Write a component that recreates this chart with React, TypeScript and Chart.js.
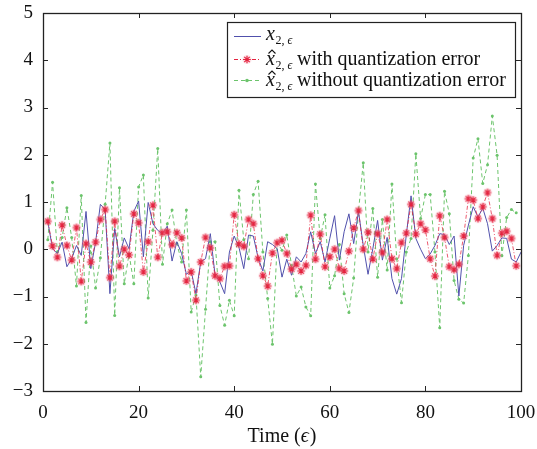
import React, { useEffect, useRef } from 'react';
import { Chart, registerables } from 'chart.js';

Chart.register(...registerables);

const xTrue = [
  0.59, 0.01, -0.09, 0.15, -0.37, -0.2, 0.08, -0.13, 0.8, -0.41,
  0.15, 0.95, 0.84, -0.94, 0.44, -0.16, 0.24, 0.01, 0.8, 1.02,
  -0.16, 0.99, 0.54, 0.4, 0.33, 0.49, -0.25, 0.16, -0.09, -0.53,
  -0.46, -0.94, -0.27, -0.2, 0.33, -0.55, -0.69, -0.94, -0.06, 0.28,
  0.04, -0.41, 0.3, 0.28, -0.18, -0.46, 0.16, 0.1, 0.01, -0.59,
  -0.21, -0.55, -0.16, -0.27, -0.09, 0.37, -0.09, 0.16, -0.27, 0.23,
  0.71, -0.23, 0.37, 0.75, 0.12, 0.8, 0.08, -0.53, 0.01, 0.61,
  -0.23, 0.25, -0.62, -0.95, -0.62, 0.3, 1.13, 0.23, 0.0, -0.2,
  -0.1, 0.08, 0.33, 0.31, 0.1, 0.28, -0.99, 0.08, 0.51, 0.9,
  0.68, 0.87, 0.54, -0.04, 0.08, 0.24, 0.23, -0.21, -0.27, -0.06,
];

const xHatQuant = [
  0.59, 0.07, -0.17, 0.51, 0.08, -0.23, 0.46, -0.68, 0.12, -0.27,
  0.15, 0.63, 0.84, -0.6, 0.59, -0.36, 0.0, -0.12, 0.75, 0.56,
  -0.48, 0.16, 0.93, -0.17, 0.35, 0.37, 0.1, 0.35, 0.24, -0.67,
  -0.48, -1.08, -0.27, 0.25, 0.03, -0.56, -0.62, -0.36, -0.35, 0.73,
  0.11, 0.06, 0.63, 0.54, -0.2, -0.56, -0.78, -0.08, 0.14, 0.19,
  -0.09, -0.42, -0.32, -0.46, -0.34, 0.72, -0.21, 0.32, -0.37, -0.16,
  0.0, -0.41, -0.46, -0.04, 0.45, 0.82, 0.0, 0.36, -0.21, 0.33,
  -0.07, 0.63, -0.2, -0.41, 0.14, 0.34, 0.95, 0.32, 0.54, 0.41,
  -0.2, -0.57, 0.71, 0.25, -0.37, -0.43, -0.32, 0.28, 1.07, 1.04,
  0.65, 0.9, 1.2, 0.65, -0.13, 0.34, 0.38, 0.23, -0.35,
];

const xHatNoQuant = [
  0.2, 1.42, -0.06, 0.25, 0.88, 0.25, -0.78, 1.14, -1.55, 0.07,
  -0.82, -0.18, 0.95, 2.25, -1.4, 1.3, -0.73, -0.1, -0.73, 1.32,
  1.57, -1.03, 0.4, 2.13, -0.32, 0.54, 0.83, 0.12, -0.27, 0.83,
  -1.33, -0.97, -2.7, -1.27, 0.16, 0.16, -1.19, -1.61, -1.08, -1.41,
  1.25, 0.2, -0.2, 1.16, 1.44, -0.06, -1.04, -2.01, 0.14, -0.02,
  0.3, -0.34, -0.99, -0.8, -1.22, -1.41, 1.38, 0.23, 0.73, -0.82,
  -0.56, 0.1, -0.94, -1.34, -0.61, 0.8, 1.83, -0.06, 0.86, -0.59,
  0.63, -0.44, 1.38, -0.2, -1.13, -0.06, 0.23, 2.02, 0.65, 1.16,
  1.16, -0.06, -1.66, 1.23, 0.75, -0.66, -1.06, -1.14, -0.13, 1.93,
  2.34, 1.39, 1.79, 2.82, 1.99, -0.14, 0.67, 0.84, 0.77,
];

const xTickValues = [0, 20, 40, 60, 80, 100];
const yTickValues = [-3, -2, -1, 0, 1, 2, 3, 4, 5];
const xAxisTitle = ['Time (', '\u03F5', ')'];

const BLUE = '#5050ac';
const RED = '#e4233f';
const GREEN = '#6cc46c';
const SERIF = '"Liberation Serif", "Times New Roman", serif';

function toPoints(values: number[]) {
  return values.map((v, i) => ({ x: i + 1, y: v }));
}

function drawStar(ctx: CanvasRenderingContext2D, cx: number, cy: number, r: number) {
  ctx.save();
  ctx.fillStyle = 'rgba(245,160,175,0.3)';
  ctx.beginPath();
  ctx.arc(cx, cy, r + 0.8, 0, Math.PI * 2);
  ctx.fill();
  ctx.strokeStyle = RED;
  ctx.lineWidth = 1.2;
  ctx.beginPath();
  for (let k = 0; k < 4; k++) {
    const a = (k * Math.PI) / 4;
    ctx.moveTo(cx - r * Math.cos(a), cy - r * Math.sin(a));
    ctx.lineTo(cx + r * Math.cos(a), cy + r * Math.sin(a));
  }
  ctx.stroke();
  ctx.restore();
}

function makeStarImage() {
  const c = document.createElement('canvas');
  c.width = 12;
  c.height = 12;
  const ctx = c.getContext('2d')!;
  drawStar(ctx, 6, 6, 3.8);
  return c;
}

function drawMathX(ctx: CanvasRenderingContext2D, x: number, y: number, hat: boolean) {
  ctx.save();
  ctx.fillStyle = '#111';
  ctx.textBaseline = 'alphabetic';
  ctx.font = `italic 20px ${SERIF}`;
  ctx.fillText('x', x, y);
  const wx = ctx.measureText('x').width;
  if (hat) {
    ctx.strokeStyle = '#111';
    ctx.lineWidth = 1.1;
    ctx.beginPath();
    ctx.moveTo(x + 2.5, y - 11.5);
    ctx.lineTo(x + 6, y - 15);
    ctx.lineTo(x + 9.5, y - 11.5);
    ctx.stroke();
  }
  ctx.font = `12px ${SERIF}`;
  const sx = x + wx + 0.5;
  ctx.fillText('2,', sx, y + 4);
  const w2 = ctx.measureText('2, ').width;
  ctx.font = `italic 12px ${SERIF}`;
  ctx.fillText('\u03F5', sx + w2, y + 4);
  ctx.restore();
}

const framePlugin = {
  id: 'matlabFrame',
  afterDatasetsDraw(chart: any) {
    const { ctx, chartArea } = chart;
    const { left, right, top, bottom } = chartArea;
    const xs = chart.scales.x;
    const ys = chart.scales.y;
    ctx.save();
    ctx.strokeStyle = '#262626';
    ctx.lineWidth = 1;
    const tl = 5;
    ctx.beginPath();
    xTickValues.forEach((v) => {
      const px = Math.round(xs.getPixelForValue(v)) + 0.5;
      ctx.moveTo(px, bottom);
      ctx.lineTo(px, bottom - tl);
      ctx.moveTo(px, top);
      ctx.lineTo(px, top + tl);
    });
    yTickValues.forEach((v) => {
      const py = Math.round(ys.getPixelForValue(v)) + 0.5;
      ctx.moveTo(left, py);
      ctx.lineTo(left + tl, py);
      ctx.moveTo(right, py);
      ctx.lineTo(right - tl, py);
    });
    ctx.stroke();
    ctx.lineWidth = 1.3;
    ctx.strokeStyle = '#222';
    ctx.strokeRect(Math.round(left) + 0.5, Math.round(top) + 0.5, Math.round(right - left), Math.round(bottom - top));

    // x-axis title with italic epsilon
    ctx.fillStyle = '#111';
    ctx.textBaseline = 'alphabetic';
    const f1 = `20px ${SERIF}`;
    const f2 = `italic 20px ${SERIF}`;
    ctx.font = f1;
    const w0 = ctx.measureText(xAxisTitle[0]).width;
    const w2 = ctx.measureText(xAxisTitle[2]).width;
    ctx.font = f2;
    const w1 = ctx.measureText(xAxisTitle[1]).width;
    const tw = w0 + w1 + w2 + 1;
    let tx = (left + right) / 2 - tw / 2;
    const ty = 442;
    ctx.font = f1;
    ctx.fillText(xAxisTitle[0], tx, ty);
    tx += w0;
    ctx.font = f2;
    ctx.fillText(xAxisTitle[1], tx, ty);
    tx += w1 + 1;
    ctx.font = f1;
    ctx.fillText(xAxisTitle[2], tx, ty);

    // legend
    const L = 227, T = 22, R = 515, B = 97;
    ctx.fillStyle = '#fff';
    ctx.fillRect(L, T, R - L, B - T);
    ctx.strokeStyle = '#222';
    ctx.lineWidth = 1.2;
    ctx.strokeRect(L + 0.5, T + 0.5, R - L, B - T);
    const rows = [36, 59, 80];
    const sx0 = 234, sx1 = 261, mx = 247;
    ctx.strokeStyle = BLUE;
    ctx.lineWidth = 1;
    ctx.setLineDash([]);
    ctx.beginPath();
    ctx.moveTo(sx0, rows[0] + 0.5);
    ctx.lineTo(sx1, rows[0] + 0.5);
    ctx.stroke();
    ctx.strokeStyle = RED;
    ctx.setLineDash([4, 2, 1, 2]);
    ctx.beginPath();
    ctx.moveTo(sx0, rows[1] + 0.5);
    ctx.lineTo(sx1, rows[1] + 0.5);
    ctx.stroke();
    ctx.setLineDash([]);
    drawStar(ctx, mx, rows[1] + 0.5, 3.8);
    ctx.strokeStyle = GREEN;
    ctx.setLineDash([4, 3]);
    ctx.beginPath();
    ctx.moveTo(sx0, rows[2] + 0.5);
    ctx.lineTo(sx1, rows[2] + 0.5);
    ctx.stroke();
    ctx.setLineDash([]);
    ctx.fillStyle = GREEN;
    ctx.beginPath();
    ctx.arc(mx, rows[2] + 0.5, 1.8, 0, Math.PI * 2);
    ctx.fill();

    drawMathX(ctx, 266, rows[0] + 4, false);
    drawMathX(ctx, 266, rows[1] + 6, true);
    drawMathX(ctx, 266, rows[2] + 6, true);
    ctx.fillStyle = '#111';
    ctx.font = `20px ${SERIF}`;
    ctx.textBaseline = 'alphabetic';
    ctx.fillText('with quantization error', 297, rows[1] + 6);
    ctx.fillText('without quantization error', 297, rows[2] + 6);
    ctx.restore();
  },
};

export default function App() {
  const canvasRef = useRef<HTMLCanvasElement | null>(null);

  useEffect(() => {
    const canvas = canvasRef.current;
    if (!canvas) return;
    const starImg = makeStarImage();
    const chart = new Chart(canvas, {
      type: 'line',
      data: {
        datasets: [
          {
            label: 'x̂2,ϵ with quantization error',
            data: toPoints(xHatQuant),
            borderColor: 'rgba(228,35,63,0.75)',
            borderWidth: 1,
            borderDash: [4, 2, 1, 2],
            pointStyle: starImg as any,
            pointRadius: 5,
            order: 0,
          },
          {
            label: 'x2,ϵ',
            data: toPoints(xTrue),
            borderColor: BLUE,
            borderWidth: 1,
            pointRadius: 0,
            order: 1,
          },
          {
            label: 'x̂2,ϵ without quantization error',
            data: toPoints(xHatNoQuant),
            borderColor: GREEN,
            borderWidth: 1,
            borderDash: [4, 3],
            pointRadius: 1.5,
            pointBackgroundColor: GREEN,
            pointBorderWidth: 0,
            order: 2,
          },
        ],
      },
      options: {
        animation: false,
        responsive: false,
        maintainAspectRatio: false,
        layout: { padding: { left: 0, right: 16, top: 13, bottom: 0 } },
        plugins: {
          legend: { display: false },
          tooltip: { enabled: false },
        },
        elements: { line: { tension: 0 } },
        scales: {
          x: {
            type: 'linear',
            min: 0,
            max: 100,
            grid: { display: false, drawTicks: false },
            border: { display: false },
            afterBuildTicks: (scale: any) => {
              scale.ticks = xTickValues.map((v) => ({ value: v }));
            },
            afterFit: (scale: any) => {
              scale.height = 58;
              scale.paddingLeft = 0;
              scale.paddingRight = 0;
            },
            ticks: {
              padding: 11,
              color: '#111',
              font: { family: SERIF, size: 19 },
              maxRotation: 0,
              callback: (v: any) => String(v),
            },
            title: { display: false },
          },
          y: {
            type: 'linear',
            min: -3,
            max: 5,
            grid: { display: false, drawTicks: false },
            border: { display: false },
            afterBuildTicks: (scale: any) => {
              scale.ticks = yTickValues.map((v) => ({ value: v }));
            },
            afterFit: (scale: any) => {
              scale.width = 43;
              scale.paddingTop = 0;
              scale.paddingBottom = 0;
            },
            ticks: {
              padding: 10,
              color: '#111',
              font: { family: SERIF, size: 19 },
              callback: (v: any) => (Number(v) < 0 ? '\u2212' + Math.abs(Number(v)) : String(v)),
            },
          },
        },
      },
      plugins: [framePlugin],
    });
    return () => chart.destroy();
  }, []);

  return (
    <div style={{ position: 'fixed', left: 0, top: 0, width: 537, height: 449, background: '#fff' }}>
      <canvas ref={canvasRef} width={537} height={449} style={{ display: 'block' }} />
    </div>
  );
}
